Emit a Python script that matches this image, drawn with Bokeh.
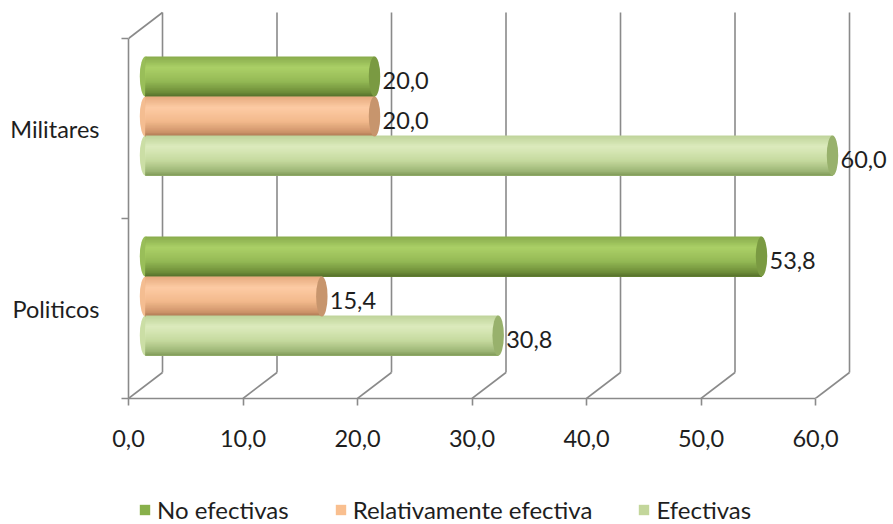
from bokeh.plotting import figure
from bokeh.layouts import column
from bokeh.models import Range1d, LinearAxis, FixedTicker, Legend, LegendItem, ColumnDataSource
from bokeh.core.properties import value
from bokeh.embed import file_html
from bokeh.resources import INLINE

# ---------------- data ----------------
categories = ["Politicos", "Militares"]
series_names = ["No efectivas", "Relativamente efectiva", "Efectivas"]
no_efectivas = [53.8, 20.0]
relativamente_efectiva = [15.4, 20.0]
efectivas = [30.8, 60.0]
x_ticks = [0, 10, 20, 30, 40, 50, 60]
x_tick_labels = ["0,0", "10,0", "20,0", "30,0", "40,0", "50,0", "60,0"]
label_texts = {
    "No efectivas": ["53,8", "20,0"],
    "Relativamente efectiva": ["15,4", "20,0"],
    "Efectivas": ["30,8", "60,0"],
}
series_values = [no_efectivas, relativamente_efectiva, efectivas]

# ---------------- style ----------------
FONT = "Lato"
FS = "23.5px"
FS_LEG = "24px"
TXT = "#1e1e1e"
GRID = "#8a8a8a"
CAT = 180.0              # vertical span of a category (screen px units)
DX = 2.97                # depth offset in x (data units)
DY = 26.0                # depth offset in y
BAR_H = 40.0
OFFS = [39.0, -1.0, -40.0]
CAP_W = 1.0
NSTRIP = 24

grad = {
    "No efectivas": [(0.0, "#88ab4c"), (0.28, "#abd067"), (0.62, "#94b955"), (0.88, "#6f8f3a"), (1.0, "#566f2b")],
    "Relativamente efectiva": [(0.0, "#e6aa7e"), (0.28, "#fdcba4"), (0.62, "#f2b98c"), (0.88, "#cf956b"), (1.0, "#a87650")],
    "Efectivas": [(0.0, "#bfd39a"), (0.28, "#dcebbd"), (0.62, "#c6da9f"), (0.88, "#9fb878"), (1.0, "#7f9a58")],
}
cap_col = {"No efectivas": "#7a9a42", "Relativamente efectiva": "#c7956d", "Efectivas": "#98b16c"}
legend_col = {"No efectivas": "#88b04b", "Relativamente efectiva": "#f9bf8f", "Efectivas": "#c3d69b"}


def hex2rgb(h):
    h = h.lstrip("#")
    return [int(h[i:i + 2], 16) for i in (0, 2, 4)]


def interp(stops, t):
    for (t0, c0), (t1, c1) in zip(stops[:-1], stops[1:]):
        if t0 <= t <= t1:
            f = (t - t0) / (t1 - t0) if t1 > t0 else 0
            a, b = hex2rgb(c0), hex2rgb(c1)
            return "#%02x%02x%02x" % tuple(int(round(a[k] + (b[k] - a[k]) * f)) for k in range(3))
    return stops[-1][1]


W = 893
H_MAIN, H_LEG = 470, 54
FRAME_L = 128
PX_PER_UNIT = 11.45
frame_w = W - FRAME_L
x_end = frame_w / PX_PER_UNIT

p = figure(width=W, height=H_MAIN, output_backend="svg", toolbar_location=None,
           x_range=Range1d(0, x_end), y_range=Range1d(0, 398),
           x_axis_location=None, y_axis_location=None,
           min_border_left=FRAME_L, min_border_right=0, min_border_top=0,
           min_border_bottom=H_MAIN - 398)
p.outline_line_color = None
p.background_fill_color = "white"
p.border_fill_color = "white"
p.grid.visible = False

top_y = len(categories) * CAT

# back wall gridlines and floor diagonals
p.segment(x0=[t + DX for t in x_ticks], y0=[DY] * len(x_ticks),
          x1=[t + DX for t in x_ticks], y1=[top_y + DY] * len(x_ticks),
          line_color=GRID, line_width=1.6)
p.segment(x0=x_ticks, y0=[0] * len(x_ticks),
          x1=[t + DX for t in x_ticks], y1=[DY] * len(x_ticks),
          line_color=GRID, line_width=1.6)
p.segment(x0=[0], y0=[top_y], x1=[DX], y1=[top_y + DY], line_color=GRID, line_width=1.6)

# cylinders (gradient built from stacked strips, each reaching the bar bottom)
q = dict(left=[], right=[], top=[], bottom=[], color=[])
le = dict(x=[], y=[], color=[])
ce = dict(x=[], y=[], color=[])
lab = dict(x=[], y=[], text=[])
for si, name in enumerate(series_names):
    vals = series_values[si]
    for ci, cat in enumerate(categories):
        v = vals[ci]
        yc = CAT * ci + CAT / 2 + OFFS[si] + DY / 2
        x0 = DX / 2
        x1 = v + DX / 2
        le["x"].append(x0); le["y"].append(yc); le["color"].append(interp(grad[name], 0.55))
        hs = BAR_H / NSTRIP
        for k in range(NSTRIP):
            t = (k + 0.5) / NSTRIP
            top = yc + BAR_H / 2 - k * hs
            q["left"].append(x0); q["right"].append(x1)
            q["top"].append(top); q["bottom"].append(yc - BAR_H / 2)
            q["color"].append(interp(grad[name], t))
        ce["x"].append(x1); ce["y"].append(yc); ce["color"].append(cap_col[name])
        lab["x"].append(x1 + CAP_W / 2 + 0.2); lab["y"].append(yc - 4)
        lab["text"].append(label_texts[name][ci])

p.ellipse(x="x", y="y", width=CAP_W, height=BAR_H, fill_color="color", line_color=None,
          source=ColumnDataSource(le))
p.quad(left="left", right="right", top="top", bottom="bottom", fill_color="color",
       line_color=None, source=ColumnDataSource(q))
p.ellipse(x="x", y="y", width=CAP_W, height=BAR_H, fill_color="color", line_color=None,
          source=ColumnDataSource(ce))
p.text(x="x", y="y", text="text", text_font=value(FONT), text_font_size=FS, text_color=TXT,
       text_baseline="middle", text_align="left", source=ColumnDataSource(lab))

# axes
xaxis = LinearAxis(ticker=FixedTicker(ticks=x_ticks, minor_ticks=[]),
                   major_label_overrides={t: s for t, s in zip(x_ticks, x_tick_labels)},
                   bounds=(0, 60))
xaxis.axis_line_color = GRID
xaxis.axis_line_width = 1.6
xaxis.major_tick_line_color = GRID
xaxis.major_tick_line_width = 1.6
xaxis.major_tick_out = 7
xaxis.major_tick_in = 0
xaxis.major_label_standoff = 24
xaxis.major_label_text_font = FONT
xaxis.major_label_text_font_size = FS
xaxis.major_label_text_color = TXT
p.add_layout(xaxis, "below")

centers = [int(CAT * i + CAT / 2) for i in range(len(categories))]
yaxis = LinearAxis(ticker=FixedTicker(ticks=centers, minor_ticks=[CAT * i for i in range(len(categories) + 1)]),
                   major_label_overrides={c: s for c, s in zip(centers, categories)},
                   bounds=(0, top_y))
yaxis.axis_line_color = GRID
yaxis.axis_line_width = 1.6
yaxis.major_tick_line_color = None
yaxis.major_tick_out = 0
yaxis.major_tick_in = 0
yaxis.minor_tick_line_color = GRID
yaxis.minor_tick_line_width = 1.6
yaxis.minor_tick_out = 7
yaxis.minor_tick_in = 0
yaxis.major_label_standoff = 22
yaxis.major_label_text_font = FONT
yaxis.major_label_text_font_size = FS
yaxis.major_label_text_color = TXT
p.add_layout(yaxis, "left")

# legend strip (separate small figure below; its frame is aligned with the main frame)
pl = figure(width=W, height=H_LEG, output_backend="svg", toolbar_location=None,
            x_range=Range1d(0, 1), y_range=Range1d(0, 1),
            x_axis_location=None, y_axis_location=None,
            min_border_left=FRAME_L, min_border_right=0, min_border_top=0, min_border_bottom=0)
pl.outline_line_color = None
pl.grid.visible = False
items = []
for name in series_names:
    # zero-area swatch carrier (invisible in the plot, gives the legend its colour)
    r = pl.quad(left=[0], right=[0], top=[0], bottom=[0], fill_color=legend_col[name], line_color=None)
    items.append(LegendItem(label=name, renderers=[r]))
legend = Legend(items=items, orientation="horizontal", location=(10, 0),
                label_text_font=FONT, label_text_font_size=FS_LEG, label_text_color=TXT,
                glyph_width=13, glyph_height=13, label_standoff=6, spacing=45,
                padding=2, margin=0, border_line_color=None, background_fill_alpha=0)
pl.add_layout(legend, "center")

layout = column(p, pl, spacing=0)
open("out.html", "w").write(file_html(layout, INLINE))
